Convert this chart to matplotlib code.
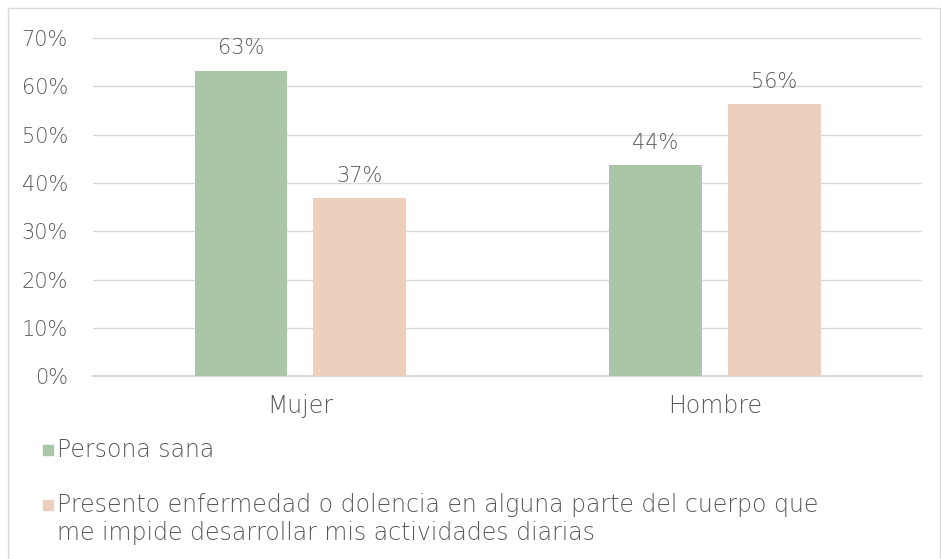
import matplotlib
matplotlib.use('Agg')
from matplotlib import pyplot as plt
from matplotlib.patches import Rectangle
import numpy as np

plt.rcParams['font.family'] = ['DejaVu Sans']
plt.rcParams['font.weight'] = 'light'

categories = ['Mujer', 'Hombre']
series_names = ['Persona sana',
                'Presento enfermedad o dolencia en alguna parte del cuerpo que\nme impide desarrollar mis actividades diarias']
sana = [63.2, 43.7]
enferma = [36.8, 56.3]
colors = ['#a9c6a6', '#edcfbe']
text_color = '#595959'
grid_color = '#d9d9d9'
fs = 15
fs_text = 17

fig = plt.figure(figsize=(9.41, 5.59), dpi=100)
fig.add_artist(Rectangle((0.009, -0.01), 0.99, 0.995, transform=fig.transFigure,
                         fill=False, edgecolor=grid_color, linewidth=1))
ax = fig.add_axes([0.0988, 0.327, 0.8812, 0.605])

x = np.arange(len(categories))
w = 0.224
off = 0.143
for vals, dx, c in [(sana, -off, colors[0]), (enferma, off, colors[1])]:
    bars = ax.bar(x + dx, vals, width=w, color=c, zorder=3)
    for b, v in zip(bars, vals):
        ax.annotate(f'{round(v)}%', (b.get_x() + b.get_width() / 2, v),
                    xytext=(0, 9), textcoords='offset points',
                    ha='center', va='bottom', fontsize=fs, color=text_color)

ax.set_xlim(-0.5, 1.5)
ax.set_ylim(0, 70)
ax.set_yticks(range(0, 71, 10))
ax.set_yticklabels([f'{t}%' for t in range(0, 71, 10)])
ax.set_xticks(x)
ax.set_xticklabels(categories, fontsize=fs_text)
ax.grid(axis='y', color=grid_color, linewidth=1, zorder=0)
for s in ['top', 'right', 'left']:
    ax.spines[s].set_visible(False)
ax.spines['bottom'].set_color(grid_color)
ax.spines['bottom'].set_linewidth(1.5)
ax.tick_params(axis='both', length=0, labelcolor=text_color)
ax.tick_params(axis='y', labelsize=fs, pad=18)
ax.tick_params(axis='x', pad=13)

# legend
leg_y = [450, 505]
for name, c, yy in zip(series_names, colors, leg_y):
    fy = 1 - yy / 559
    fig.add_artist(Rectangle((43 / 941, fy - 5 / 559), 10 / 941, 10 / 559,
                             transform=fig.transFigure, color=c))
    fig.text(57 / 941, fy + 12 / 559, name, ha='left', va='top', fontsize=fs_text,
             color=text_color, linespacing=1.2)

fig.savefig('out.png', dpi=100)
